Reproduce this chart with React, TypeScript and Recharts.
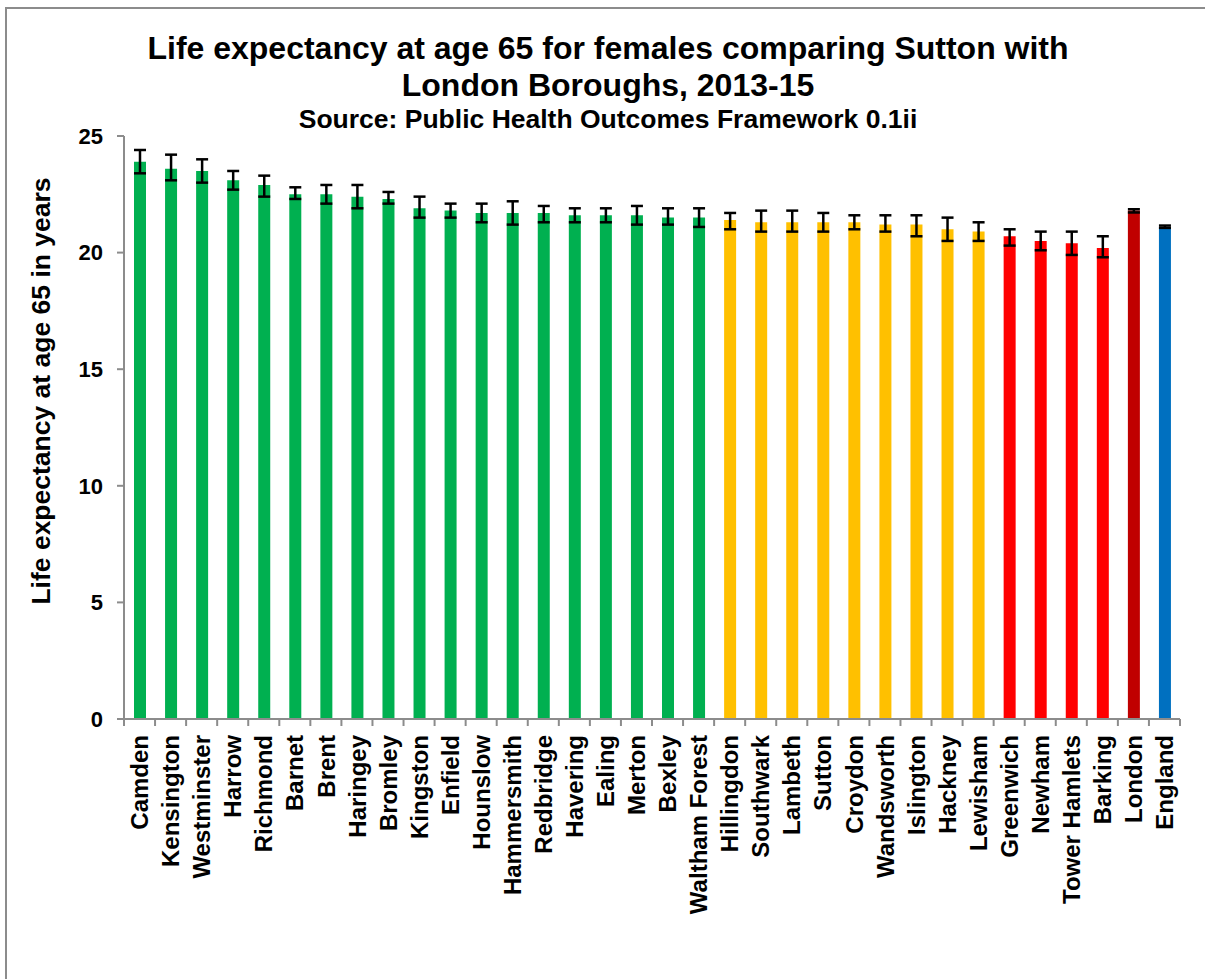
import { BarChart, Bar, XAxis, YAxis, ErrorBar, Cell } from 'recharts';

const boroughs = [
  'Camden', 'Kensington', 'Westminster', 'Harrow', 'Richmond', 'Barnet', 'Brent',
  'Haringey', 'Bromley', 'Kingston', 'Enfield', 'Hounslow', 'Hammersmith', 'Redbridge',
  'Havering', 'Ealing', 'Merton', 'Bexley', 'Waltham Forest', 'Hillingdon', 'Southwark',
  'Lambeth', 'Sutton', 'Croydon', 'Wandsworth', 'Islington', 'Hackney', 'Lewisham',
  'Greenwich', 'Newham', 'Tower Hamlets', 'Barking', 'London', 'England',
];

const lifeExpectancy = [
  23.9, 23.6, 23.5, 23.1, 22.9, 22.5, 22.5, 22.4, 22.3, 21.9, 21.8, 21.7, 21.7, 21.7,
  21.6, 21.6, 21.6, 21.5, 21.5, 21.4, 21.3, 21.3, 21.3, 21.3, 21.2, 21.2, 21.0, 20.9,
  20.7, 20.5, 20.4, 20.2, 21.8, 21.1,
];

const lowerCI = [
  23.4, 23.1, 23.0, 22.7, 22.4, 22.3, 22.1, 21.9, 22.1, 21.5, 21.5, 21.3, 21.2, 21.3,
  21.3, 21.3, 21.2, 21.2, 21.1, 21.0, 20.9, 20.9, 20.9, 21.0, 20.9, 20.7, 20.5, 20.5,
  20.3, 20.1, 19.9, 19.8, 21.72, 21.06,
];

const upperCI = [
  24.4, 24.2, 24.0, 23.5, 23.3, 22.8, 22.9, 22.9, 22.6, 22.4, 22.1, 22.1, 22.2, 22.0,
  21.9, 21.9, 22.0, 21.9, 21.9, 21.7, 21.8, 21.8, 21.7, 21.6, 21.6, 21.6, 21.5, 21.3,
  21.0, 20.9, 20.9, 20.7, 21.86, 21.16,
];

// comparison group for each area
const groups = [
  ...Array(19).fill('better'),
  ...Array(9).fill('similar'),
  ...Array(4).fill('worse'),
  'london',
  'england',
];

const yTicks = [0, 5, 10, 15, 20, 25];

const groupColor: Record<string, string> = {
  better: '#00B050',
  similar: '#FFC000',
  worse: '#FF0000',
  london: '#C00000',
  england: '#0070C0',
};

const data = boroughs.map((name, i) => ({
  name,
  value: lifeExpectancy[i],
  err: [lifeExpectancy[i] - lowerCI[i], upperCI[i] - lifeExpectancy[i]],
  group: groups[i],
}));

const FONT = '"Liberation Sans", Arial, sans-serif';
const W = 1205;
const H = 979;
const MARGIN = { top: 136, right: 25, bottom: 0, left: 0 };
const Y_AXIS_W = 124;
const BAND = (W - MARGIN.right - MARGIN.left - Y_AXIS_W) / boroughs.length;
const AXIS_GREY = '#8c8c8c';

function XTick(props: any) {
  const { x, y, payload, index } = props;
  const half = BAND / 2;
  return (
    <g>
      <line x1={x - half} x2={x - half} y1={y} y2={y + 7} stroke={AXIS_GREY} strokeWidth={2} />
      {index === boroughs.length - 1 && (
        <line x1={x + half} x2={x + half} y1={y} y2={y + 7} stroke={AXIS_GREY} strokeWidth={2} />
      )}
      <text
        transform={`translate(${x},${y + 16}) rotate(-90)`}
        textAnchor="end"
        dy="0.36em"
        fontFamily={FONT}
        fontWeight="bold"
        fontSize={24}
        fill="#000"
      >
        {payload.value}
      </text>
    </g>
  );
}

export default function App() {
  return (
    <div style={{ position: 'absolute', left: 0, top: 0, width: W, height: H, overflow: 'hidden', background: '#fff' }}>
      <div
        style={{
          position: 'absolute',
          left: 5,
          top: 7,
          width: 1300,
          height: 1100,
          border: `2px solid ${AXIS_GREY}`,
        }}
      />
      <div style={{ position: 'absolute', left: 0, top: 0 }}>
        <BarChart width={W} height={H} data={data} margin={MARGIN}>
          <XAxis
            dataKey="name"
            interval={0}
            height={H - 719}
            tickSize={0}
            tickMargin={0}
            tickLine={false}
            axisLine={{ stroke: AXIS_GREY, strokeWidth: 2 }}
            tick={<XTick />}
          />
          <YAxis
            width={Y_AXIS_W}
            domain={[0, 25]}
            ticks={yTicks}
            tickSize={7}
            tickMargin={14}
            axisLine={{ stroke: AXIS_GREY, strokeWidth: 2 }}
            tickLine={{ stroke: AXIS_GREY, strokeWidth: 2 }}
            tick={{ fontFamily: FONT, fontWeight: 'bold', fontSize: 22, fill: '#000' }}
          />
          <Bar dataKey="value" barSize={12} isAnimationActive={false}>
            {data.map((d) => (
              <Cell key={d.name} fill={groupColor[d.group]} />
            ))}
            <ErrorBar
              dataKey="err"
              direction="y"
              width={6}
              stroke="#000"
              strokeWidth={2.5}
              isAnimationActive={false}
            />
          </Bar>
        </BarChart>
      </div>
      <svg
        width={W}
        height={H}
        style={{ position: 'absolute', left: 0, top: 0, pointerEvents: 'none' }}
        fontFamily={FONT}
        fontWeight="bold"
      >
        <text x={608} y={59} textAnchor="middle" fontSize={32}>
          Life expectancy at age 65 for females comparing Sutton with
        </text>
        <text x={608} y={96} textAnchor="middle" fontSize={32}>
          London Boroughs, 2013-15
        </text>
        <text x={608} y={128} textAnchor="middle" fontSize={26.5}>
          Source: Public Health Outcomes Framework 0.1ii
        </text>
        <text x={50} y={391} transform="rotate(-90 50 391)" textAnchor="middle" fontSize={26.5}>
          Life expectancy at age 65 in years
        </text>
      </svg>
    </div>
  );
}
